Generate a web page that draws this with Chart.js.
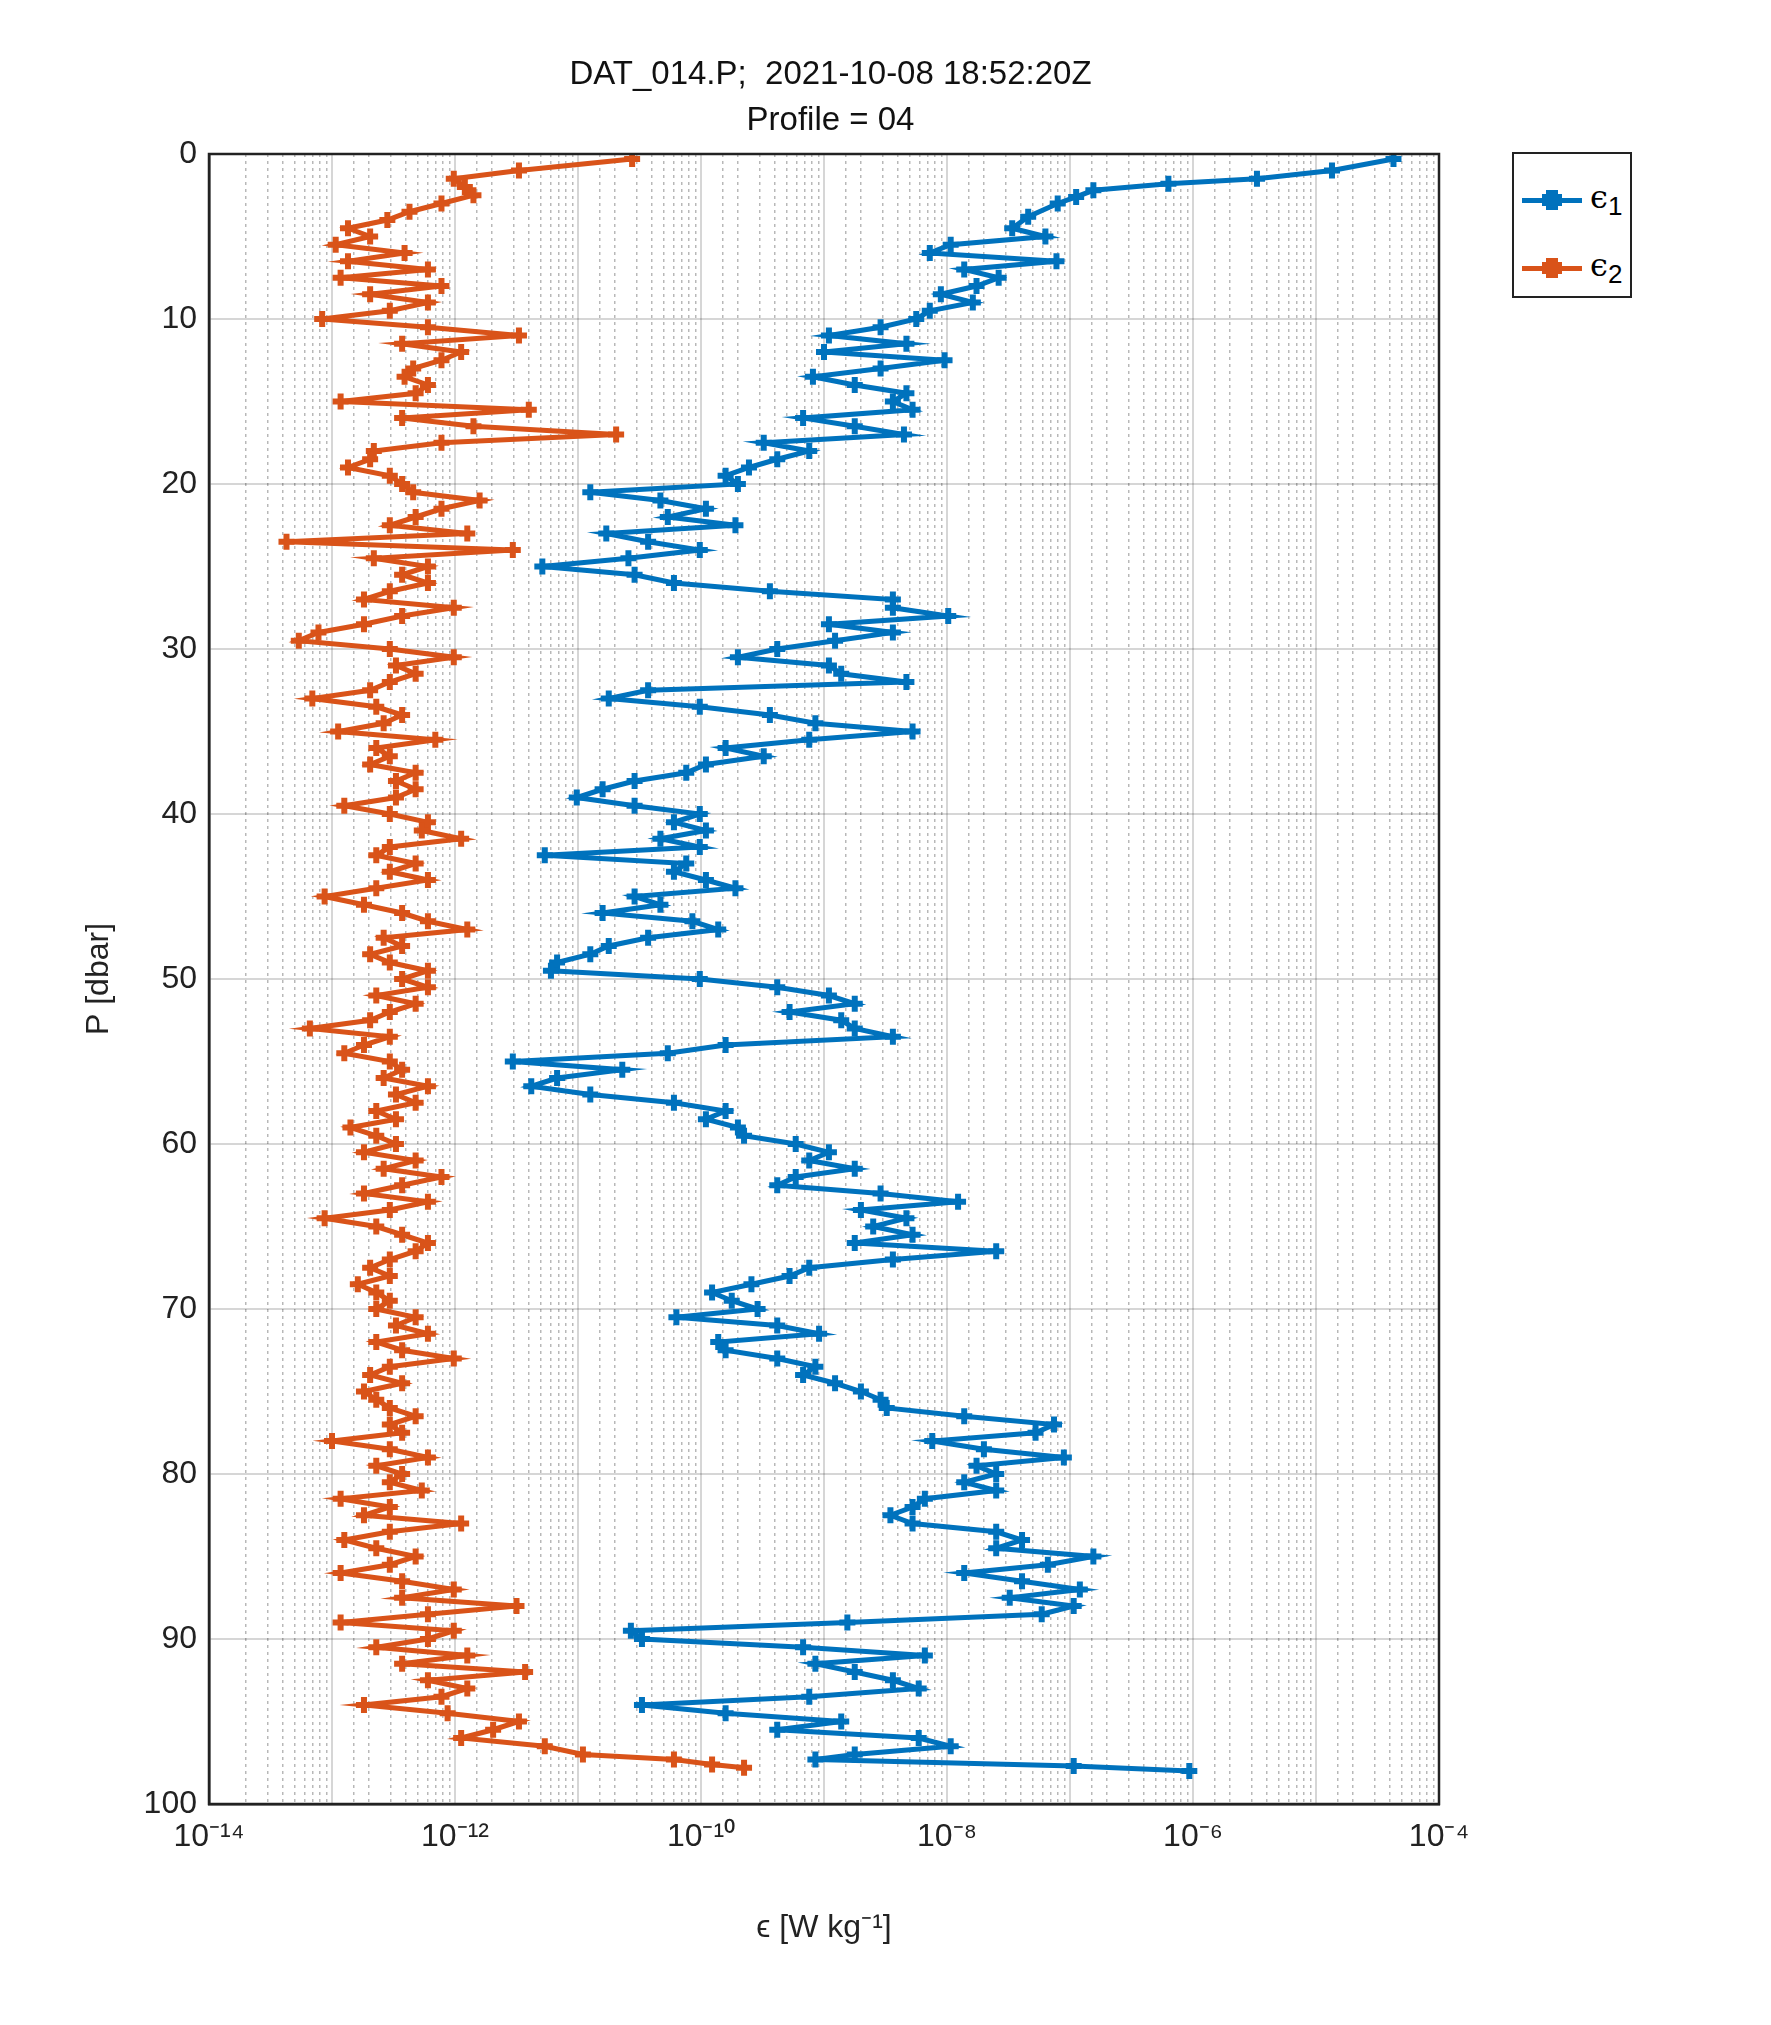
<!DOCTYPE html>
<html>
<head>
<meta charset="utf-8">
<script src="https://cdn.jsdelivr.net/npm/chart.js@4.4.0/dist/chart.umd.min.js"></script>
<style>
  body { margin: 0; background: #fff; font-family: "Liberation Sans", Arial, sans-serif; }
  #wrap { position: relative; width: 1771px; height: 2025px; }
  #title { position: absolute; left: 209px; width: 1243px; top: 50px; text-align: center; font-size: 33px; line-height: 46px; color: #111; }
  #legend { position: absolute; left: 1512px; top: 152px; width: 116px; height: 142px; border: 2px solid #222; background: #fff; font-size: 32px; }
  .item { position: absolute; left: 8px; height: 40px; }
  .item .ln { position: absolute; left: 0; top: 16px; width: 60px; height: 5px; }
  .item .mk { position: absolute; left: 24px; top: 8px; width: 12px; height: 20px; }
  .item .mk2 { position: absolute; left: 20px; top: 12px; width: 20px; height: 12px; }
  .item span { position: absolute; left: 68px; top: -4px; font-family: "DejaVu Serif", serif; }
  canvas { position: absolute; left: 0; top: 0; }
</style>
</head>
<body>
<div id="wrap">
  <canvas id="chart" width="1771" height="2025"></canvas>
  <div id="title">DAT_014.P;&nbsp; 2021-10-08 18:52:20Z<br>Profile = 04</div>
  <div id="legend">
    <div class="item" style="top:28px"><div class="ln" style="background:#0072BD"></div><div class="mk" style="background:#0072BD"></div><div class="mk2" style="background:#0072BD"></div><span>&#1013;<sub style="font-family:'Liberation Sans';font-size:26px">1</sub></span></div>
    <div class="item" style="top:96px"><div class="ln" style="background:#D95319"></div><div class="mk" style="background:#D95319"></div><div class="mk2" style="background:#D95319"></div><span>&#1013;<sub style="font-family:'Liberation Sans';font-size:26px">2</sub></span></div>
  </div>
</div>
<script>
// pressure levels, 5..97 dbar every 0.5
const pMid = [5,5.5,6,6.5,7,7.5,8,8.5,9,9.5,10,10.5,11,11.5,12,12.5,13,13.5,14,14.5,15,15.5,16,16.5,17,17.5,18,18.5,19,19.5,
  20,20.5,21,21.5,22,22.5,23,23.5,24,24.5,25,25.5,26,26.5,27,27.5,28,28.5,29,29.5,30,30.5,31,31.5,32,32.5,33,33.5,34,34.5,
  35,35.5,36,36.5,37,37.5,38,38.5,39,39.5,40,40.5,41,41.5,42,42.5,43,43.5,44,44.5,45,45.5,46,46.5,47,47.5,48,48.5,49,49.5,
  50,50.5,51,51.5,52,52.5,53,53.5,54,54.5,55,55.5,56,56.5,57,57.5,58,58.5,59,59.5,60,60.5,61,61.5,62,62.5,63,63.5,64,64.5,
  65,65.5,66,66.5,67,67.5,68,68.5,69,69.5,70,70.5,71,71.5,72,72.5,73,73.5,74,74.5,75,75.5,76,76.5,77,77.5,78,78.5,79,79.5,
  80,80.5,81,81.5,82,82.5,83,83.5,84,84.5,85,85.5,86,86.5,87,87.5,88,88.5,89,89.5,90,90.5,91,91.5,92,92.5,93,93.5,94,94.5,
  95,95.5,96,96.5,97];
const p1 = [0.3,1,1.5,1.8,2.2,2.6,3,3.8,4.5].concat(pMid, [97.3,97.7,98]);
const p2 = [0.3,1,1.5,2,2.5,3,3.5,4,4.5].concat(pMid, [97.3,97.6,97.8]);

// log10 of epsilon [W/kg]
const logEps1 = [-4.37,-4.87,-5.48,-6.20,-6.81,-6.95,-7.10,-7.34,-7.47,
  -7.20,-7.97,-8.14,-7.11,-7.86,-7.58,-7.76,-8.05,-7.79,-8.14,-8.25,-8.54,-8.96,-8.33,-9.00,-8.02,-8.54,-9.09,-8.75,-8.33,
  -8.44,-8.28,-9.17,-8.75,-8.35,-9.49,-9.12,-9.38,-9.61,-9.80,-9.70,-10.90,-10.33,-9.96,-10.27,-9.72,-10.77,-10.43,-10.01,-10.59,
  -11.29,-10.54,-10.22,-9.44,-8.44,-8.44,-7.99,-8.96,-8.44,-8.91,-9.38,-9.70,-8.96,-8.86,-8.33,-10.43,-10.75,-10.01,-9.44,-9.07,
  -8.28,-9.12,-9.80,-9.49,-9.96,-10.12,-10.54,-10.80,-11.01,-10.54,-10.01,-10.22,-9.96,-10.33,-10.01,-11.27,-10.12,-10.22,-9.96,-9.72,
  -10.54,-10.33,-10.80,-10.07,-9.86,-10.43,-10.75,-10.90,-11.17,-11.22,-10.01,-9.38,-8.96,-8.75,-9.28,-8.86,-8.75,-8.44,-9.80,-10.27,
  -11.53,-10.64,-11.17,-11.38,-10.90,-10.22,-9.80,-9.96,-9.70,-9.65,-9.23,-8.96,-9.12,-8.75,-9.23,-9.38,-8.54,-7.91,-8.70,-8.33,
  -8.60,-8.28,-8.75,-7.60,-8.44,-9.12,-9.28,-9.59,-9.91,-9.75,-9.54,-10.20,-9.38,-9.04,-9.86,-9.80,-9.38,-9.07,-9.17,-8.91,
  -8.70,-8.54,-8.49,-7.86,-7.13,-7.28,-8.12,-7.70,-7.05,-7.76,-7.60,-7.86,-7.60,-8.18,-8.28,-8.46,-8.28,-7.60,-7.39,-7.60,
  -6.81,-7.18,-7.86,-7.39,-6.92,-7.49,-6.97,-7.23,-8.81,-10.57,-10.48,-9.17,-8.18,-9.07,-8.75,-8.44,-8.23,-9.12,-10.48,-9.80,
  -8.86,-9.38,-8.23,-7.97,-8.75,
  -9.07,-6.97,-6.03];
const logEps2 = [-10.56,-11.48,-12.01,-11.92,-11.85,-12.11,-12.37,-12.55,-12.87,
  -12.69,-12.97,-12.41,-12.87,-12.22,-12.93,-12.11,-12.69,-12.22,-12.53,-13.08,-12.22,-11.48,-12.43,-11.95,-12.11,-12.34,-12.41,-12.22,-12.32,
  -12.93,-11.40,-12.43,-11.85,-10.69,-12.11,-12.66,-12.69,-12.87,-12.53,-12.43,-12.34,-11.80,-12.11,-12.32,-12.53,-11.90,-13.37,-11.53,-12.66,
  -12.22,-12.43,-12.22,-12.53,-12.74,-12.01,-12.43,-12.74,-13.11,-13.27,-12.53,-12.01,-12.48,-12.32,-12.53,-12.69,-13.16,-12.64,-12.43,-12.58,
  -12.95,-12.16,-12.64,-12.53,-12.69,-12.32,-12.48,-12.32,-12.48,-12.90,-12.53,-12.22,-12.27,-11.95,-12.53,-12.64,-12.32,-12.53,-12.22,-12.64,
  -13.06,-12.74,-12.43,-12.22,-11.90,-12.58,-12.43,-12.69,-12.53,-12.22,-12.43,-12.22,-12.64,-12.32,-12.53,-12.69,-13.18,-12.53,-12.74,-12.90,
  -12.53,-12.43,-12.58,-12.22,-12.48,-12.32,-12.64,-12.48,-12.85,-12.64,-12.48,-12.74,-12.32,-12.58,-12.11,-12.43,-12.74,-12.22,-12.53,-13.06,
  -12.64,-12.43,-12.22,-12.32,-12.53,-12.69,-12.53,-12.79,-12.64,-12.53,-12.64,-12.32,-12.48,-12.22,-12.64,-12.43,-12.01,-12.53,-12.69,-12.43,
  -12.74,-12.64,-12.53,-12.32,-12.53,-12.43,-13.00,-12.53,-12.22,-12.64,-12.43,-12.53,-12.27,-12.93,-12.53,-12.74,-11.95,-12.53,-12.90,-12.64,
  -12.32,-12.53,-12.93,-12.43,-12.01,-12.43,-11.50,-12.22,-12.93,-12.01,-12.22,-12.64,-11.90,-12.43,-11.43,-12.22,-11.90,-12.11,-12.74,-12.06,
  -11.48,-11.69,-11.95,-11.27,-10.96,
  -10.22,-9.91,-9.65];

const xTickLabels = {'-14':'10⁻¹⁴','-12':'10⁻¹²','-10':'10⁻¹⁰','-8':'10⁻⁸','-6':'10⁻⁶','-4':'10⁻⁴'};

function toPoints(p, le) {
  return p.map((v, i) => ({ x: Math.pow(10, le[i]), y: v }));
}
function isDecade(v) {
  const e = Math.log10(v);
  return Math.abs(e - Math.round(e)) < 1e-6;
}

const ctx = document.getElementById('chart').getContext('2d');
new Chart(ctx, {
  type: 'scatter',
  data: {
    datasets: [
      { label: 'eps1', data: toPoints(p1, logEps1), borderColor: '#0072BD', backgroundColor: '#0072BD',
        showLine: true, borderWidth: 5, pointStyle: 'cross', pointRadius: 8, pointBorderWidth: 6 },
      { label: 'eps2', data: toPoints(p2, logEps2), borderColor: '#D95319', backgroundColor: '#D95319',
        showLine: true, borderWidth: 5, pointStyle: 'cross', pointRadius: 8, pointBorderWidth: 6 }
    ]
  },
  options: {
    responsive: false,
    animation: false,
    layout: { padding: { top: 154, right: 332, left: 76, bottom: 0 } },
    plugins: { legend: { display: false }, tooltip: { enabled: false } },
    scales: {
      x2: {
        type: 'logarithmic', position: 'bottom', min: 1e-14, max: 1e-4,
        afterBuildTicks: s => { s.ticks = s.ticks.filter(t => !isDecade(t.value)); },
        afterFit: s => { s.height = 0; },
        ticks: { display: false },
        grid: { color: 'rgba(0,0,0,0.28)', lineWidth: 1.5, drawTicks: false },
        border: { display: false, dash: [3, 4] }
      },
      x: {
        type: 'logarithmic', position: 'bottom', min: 1e-14, max: 1e-4,
        afterBuildTicks: s => { s.ticks = s.ticks.filter(t => isDecade(t.value)); },
        afterFit: s => { s.height = 221; },
        ticks: {
          color: '#222', font: { size: 32, family: 'Liberation Sans' }, padding: 14, maxRotation: 0,
          callback: v => xTickLabels[String(Math.round(Math.log10(v)))] || ''
        },
        grid: { color: 'rgba(0,0,0,0.16)', lineWidth: 2, drawTicks: false },
        border: { color: '#222', width: 2.5 },
        title: { display: true, text: 'ϵ [W kg⁻¹]', color: '#222', font: { size: 32, family: 'Liberation Sans' }, padding: { top: 4, bottom: 78 } }
      },
      y: {
        type: 'linear', reverse: true, min: 0, max: 100,
        afterFit: s => { s.width = 133; },
        ticks: { stepSize: 10, color: '#222', font: { size: 32, family: 'Liberation Sans' }, padding: 12 },
        grid: { color: 'rgba(0,0,0,0.16)', lineWidth: 2, drawTicks: false },
        border: { color: '#222', width: 2.5 },
        title: { display: true, text: 'P [dbar]', color: '#222', font: { size: 32, family: 'Liberation Sans' } }
      }
    }
  },
  plugins: [{
    id: 'frame',
    afterDraw(chart) {
      const a = chart.chartArea, c = chart.ctx;
      c.save();
      c.strokeStyle = '#222'; c.lineWidth = 2.5;
      c.strokeRect(a.left, a.top, a.right - a.left, a.bottom - a.top);
      c.restore();
    }
  }]
});
</script>
</body>
</html>
